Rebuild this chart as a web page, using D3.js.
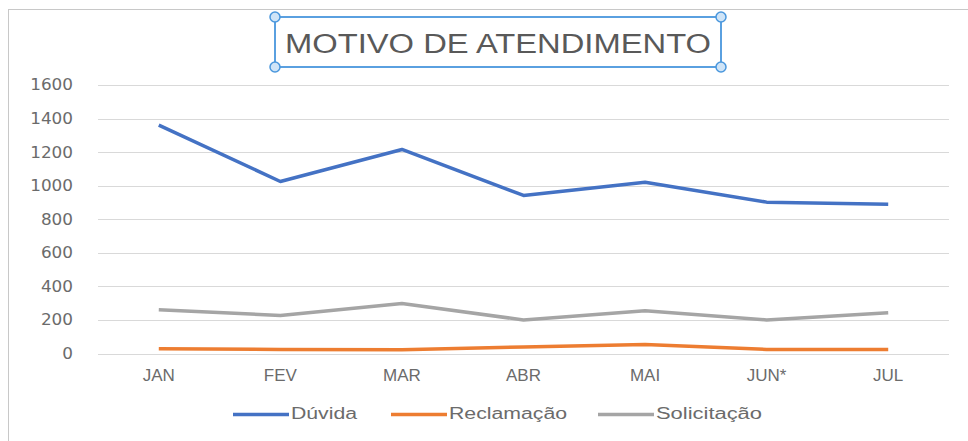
<!DOCTYPE html>
<html>
<head>
<meta charset="utf-8">
<script src="https://cdn.jsdelivr.net/npm/d3@7"></script>
<style>
  body { margin: 0; background: #fff; }
  svg { display: block; }
</style>
</head>
<body>
<div id="chart"></div>
<script>
var width = 968, height = 441;

var months = ["JAN", "FEV", "MAR", "ABR", "MAI", "JUN*", "JUL"];
var duvida = [1361, 1025, 1216, 942, 1020, 902, 890];
var reclamacao = [29, 24, 22, 39, 53, 24, 24];
var solicitacao = [260, 227, 298, 200, 255, 200, 243];
var yTicks = [0, 200, 400, 600, 800, 1000, 1200, 1400, 1600];
var seriesNames = ["Dúvida", "Reclamação", "Solicitação"];
var colorPair = ["#4472c4", "#ed7d31", "#a5a5a5"];

var series = [duvida, reclamacao, solicitacao];

var svg = d3.select("#chart").append("svg")
  .attr("width", width)
  .attr("height", height);

// chart area border
svg.append("rect")
  .attr("x", 8.5).attr("y", 9.5)
  .attr("width", 1000).attr("height", 500)
  .attr("fill", "none")
  .attr("stroke", "#c8c8c8");

var x = d3.scalePoint().domain(months).range([98, 949]).padding(0.5);
var y = d3.scaleLinear().domain([0, 1600]).range([353.5, 85]);

// gridlines
svg.append("g").selectAll("line")
  .data(yTicks)
  .enter().append("line")
  .attr("x1", 98).attr("x2", 949)
  .attr("y1", function(d) { return Math.round(y(d)) + 0.5; })
  .attr("y2", function(d) { return Math.round(y(d)) + 0.5; })
  .attr("stroke", "#d9d9d9")
  .attr("stroke-width", 1);

// y labels
svg.append("g").selectAll("text")
  .data(yTicks)
  .enter().append("text")
  .attr("x", 73)
  .attr("y", function(d) { return y(d); })
  .attr("dy", "0.36em")
  .attr("text-anchor", "end")
  .attr("font-family", "DejaVu Sans, sans-serif")
  .attr("font-size", 15)
  .attr("fill", "#6b6b6b")
  .attr("textLength", function(d) { return String(d).length * 10.7; })
  .attr("lengthAdjust", "spacingAndGlyphs")
  .text(function(d) { return d; });

// x labels
svg.append("g").selectAll("text")
  .data(months)
  .enter().append("text")
  .attr("x", function(d) { return x(d); })
  .attr("y", 375)
  .attr("dy", "0.36em")
  .attr("text-anchor", "middle")
  .attr("font-family", "Liberation Sans, Arial, sans-serif")
  .attr("font-size", 17)
  .attr("fill", "#6b6b6b")
  .text(function(d) { return d; });

// lines
var line = d3.line()
  .x(function(d, i) { return x(months[i]); })
  .y(function(d) { return y(d); });

svg.append("g").selectAll("path")
  .data(series)
  .enter().append("path")
  .attr("d", line)
  .attr("fill", "none")
  .attr("stroke", function(d, i) { return colorPair[i]; })
  .attr("stroke-width", 3.5)
  .attr("stroke-linejoin", "round");

// legend
var legendX = [233, 391, 598];
var legendW = [66, 118, 106];
var legend = svg.append("g");
seriesNames.forEach(function(name, i) {
  legend.append("line")
    .attr("x1", legendX[i]).attr("x2", legendX[i] + 56)
    .attr("y1", 414.5).attr("y2", 414.5)
    .attr("stroke", colorPair[i])
    .attr("stroke-width", 3.5);
  legend.append("text")
    .attr("x", legendX[i] + 58)
    .attr("y", 413)
    .attr("dy", "0.36em")
    .attr("font-family", "Liberation Sans, Arial, sans-serif")
    .attr("font-size", 16)
    .attr("fill", "#6b6b6b")
    .attr("textLength", legendW[i])
    .attr("lengthAdjust", "spacingAndGlyphs")
    .text(name);
});

// title with selection box
var tb = svg.append("g");
tb.append("rect")
  .attr("x", 275).attr("y", 17)
  .attr("width", 446).attr("height", 50)
  .attr("fill", "#fff")
  .attr("stroke", "#5aa0e0")
  .attr("stroke-width", 2);
tb.append("text")
  .attr("x", 498)
  .attr("y", 43)
  .attr("dy", "0.36em")
  .attr("text-anchor", "middle")
  .attr("font-family", "Liberation Sans, Arial, sans-serif")
  .attr("font-size", 27)
  .attr("fill", "#595959")
  .attr("textLength", 426)
  .attr("lengthAdjust", "spacingAndGlyphs")
  .text("MOTIVO DE ATENDIMENTO");
[[275, 17], [721, 17], [275, 67], [721, 67]].forEach(function(p) {
  tb.append("circle")
    .attr("cx", p[0]).attr("cy", p[1]).attr("r", 5)
    .attr("fill", "#cfe4f7")
    .attr("stroke", "#4a97dd")
    .attr("stroke-width", 1.5);
});
</script>
</body>
</html>
